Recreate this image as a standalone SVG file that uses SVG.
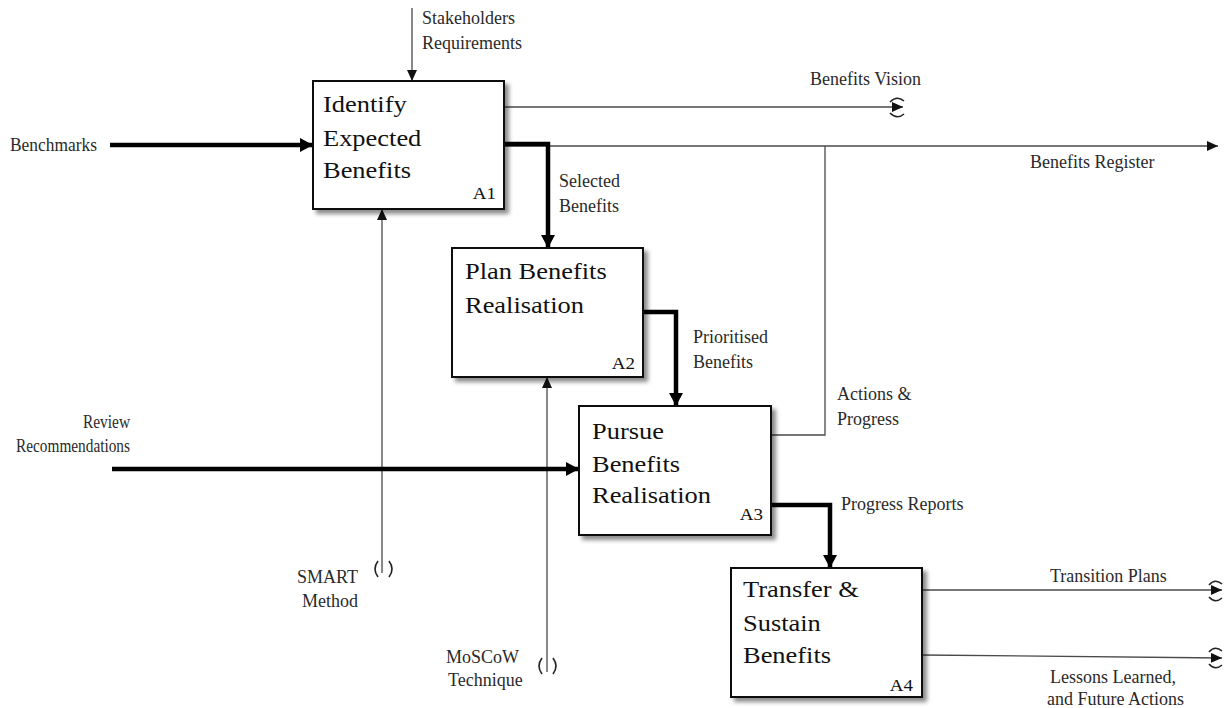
<svg xmlns="http://www.w3.org/2000/svg" width="1228" height="708" viewBox="0 0 1228 708">
  <style>
    .box { fill: #ffffff; stroke: #111111; stroke-width: 2; filter: url(#shadow); }
    .title { font-family: "Liberation Serif", "Times New Roman", serif; font-size: 23px; fill: #111111; }
    .code { font-family: "Liberation Serif", "Times New Roman", serif; font-size: 16.5px; fill: #111111; }
    .lbl { font-family: "Liberation Serif", "Times New Roman", serif; font-size: 18px; fill: #2a2a2a; }
    .thin { fill: none; stroke: #4a4a4a; stroke-width: 1.3; }
    .thick { fill: none; stroke: #000000; stroke-width: 4.5; }
    .tun { fill: none; stroke: #222222; stroke-width: 1.6; }
  </style>
  <defs>
    <filter id="shadow" x="-10%" y="-10%" width="130%" height="130%">
      <feDropShadow dx="4" dy="4" stdDeviation="2" flood-color="#000000" flood-opacity="0.45"/>
    </filter>
    <marker id="ahThick" markerUnits="userSpaceOnUse" markerWidth="14" markerHeight="14" refX="13" refY="7" orient="auto">
      <path d="M0,0 L13,7 L0,14 z" fill="#000000"/>
    </marker>
    <marker id="ahThin" markerUnits="userSpaceOnUse" markerWidth="11" markerHeight="10" refX="11" refY="5" orient="auto">
      <path d="M0,0 L11,5 L0,10 z" fill="#111111"/>
    </marker>
  </defs>

  <rect width="1228" height="708" fill="#ffffff"/>

  <!-- connectors -->
  <g id="connectors">
    <!-- controls and mechanisms -->
    <path class="thin" d="M412,8 V81" marker-end="url(#ahThin)"/>
    <path class="thin" d="M382,573 V209" marker-end="url(#ahThin)"/>
    <path class="thin" d="M547,672 V377" marker-end="url(#ahThin)"/>
    <!-- inputs -->
    <path class="thick" d="M110,145 H313" marker-end="url(#ahThick)"/>
    <path class="thick" d="M112,469 H579" marker-end="url(#ahThick)"/>
    <!-- outputs -->
    <path class="thin" d="M504,107 H903" marker-end="url(#ahThin)"/>
    <path class="thin" d="M504,146 H1218" marker-end="url(#ahThin)"/>
    <path class="thin" d="M771,435 H825 V146"/>
    <path class="thin" d="M922,590 H1222" marker-end="url(#ahThin)"/>
    <path class="thin" d="M922,655 L1222,658" marker-end="url(#ahThin)"/>
    <!-- flows between activities -->
    <path class="thick" d="M504,144 H548 V248" marker-end="url(#ahThick)"/>
    <path class="thick" d="M643,312 H676 V406" marker-end="url(#ahThick)"/>
    <path class="thick" d="M771,505 H830 V568" marker-end="url(#ahThick)"/>
    <!-- tunnel brackets -->
    <path class="tun" d="M378,561 Q372,569 378,577 M389,561 Q395,569 389,577"/>
    <path class="tun" d="M542,658 Q536,666 542,674 M553,658 Q559,666 553,674"/>
    <path class="tun" d="M890,102 Q897,95 904,101 M890,113 Q897,120 904,114"/>
    <path class="tun" d="M1209,585 Q1215,578 1222,584 M1209,597 Q1215,604 1222,598"/>
    <path class="tun" d="M1209,652 Q1215,645 1222,651 M1209,664 Q1215,671 1222,665"/>
  </g>

  <!-- connector labels -->
  <g id="labels">
    <text class="lbl" x="422" y="24">Stakeholders</text>
    <text class="lbl" x="422" y="49">Requirements</text>
    <text class="lbl" x="10" y="151" textLength="87" lengthAdjust="spacingAndGlyphs">Benchmarks</text>
    <text class="lbl" x="810" y="85">Benefits Vision</text>
    <text class="lbl" x="1030" y="168">Benefits Register</text>
    <text class="lbl" x="559" y="187">Selected</text>
    <text class="lbl" x="559" y="212">Benefits</text>
    <text class="lbl" x="693" y="343">Prioritised</text>
    <text class="lbl" x="693" y="368">Benefits</text>
    <text class="lbl" x="837" y="400">Actions &amp;</text>
    <text class="lbl" x="837" y="425">Progress</text>
    <text class="lbl" x="83" y="428" textLength="47" lengthAdjust="spacingAndGlyphs">Review</text>
    <text class="lbl" x="16" y="452" textLength="114" lengthAdjust="spacingAndGlyphs">Recommendations</text>
    <text class="lbl" x="841" y="510">Progress Reports</text>
    <text class="lbl" x="297" y="583">SMART</text>
    <text class="lbl" x="302" y="607">Method</text>
    <text class="lbl" x="446" y="663">MoSCoW</text>
    <text class="lbl" x="448" y="686">Technique</text>
    <text class="lbl" x="1050" y="582">Transition Plans</text>
    <text class="lbl" x="1050" y="683">Lessons Learned,</text>
    <text class="lbl" x="1047" y="705">and Future Actions</text>
  </g>

  <!-- activity boxes -->
  <g id="node-a1">
    <rect class="box" x="313" y="81" width="191" height="128"/>
    <text class="title" transform="translate(323,112) scale(1.15,1)">Identify</text>
    <text class="title" transform="translate(323,146) scale(1.15,1)">Expected</text>
    <text class="title" transform="translate(323,178) scale(1.15,1)">Benefits</text>
    <text class="code" text-anchor="end" transform="translate(496,199) scale(1.15,1)">A1</text>
  </g>
  <g id="node-a2">
    <rect class="box" x="452" y="248" width="191" height="129"/>
    <text class="title" transform="translate(465,279) scale(1.15,1)">Plan Benefits</text>
    <text class="title" transform="translate(465,313) scale(1.15,1)">Realisation</text>
    <text class="code" text-anchor="end" transform="translate(635,369) scale(1.15,1)">A2</text>
  </g>
  <g id="node-a3">
    <rect class="box" x="579" y="406" width="192" height="129"/>
    <text class="title" transform="translate(592,439) scale(1.15,1)">Pursue</text>
    <text class="title" transform="translate(592,472) scale(1.15,1)">Benefits</text>
    <text class="title" transform="translate(592,503) scale(1.15,1)">Realisation</text>
    <text class="code" text-anchor="end" transform="translate(763,520) scale(1.15,1)">A3</text>
  </g>
  <g id="node-a4">
    <rect class="box" x="731" y="568" width="191" height="129"/>
    <text class="title" transform="translate(743,597) scale(1.15,1)">Transfer &amp;</text>
    <text class="title" transform="translate(743,631) scale(1.15,1)">Sustain</text>
    <text class="title" transform="translate(743,663) scale(1.15,1)">Benefits</text>
    <text class="code" text-anchor="end" transform="translate(913,691) scale(1.15,1)">A4</text>
  </g>
</svg>
